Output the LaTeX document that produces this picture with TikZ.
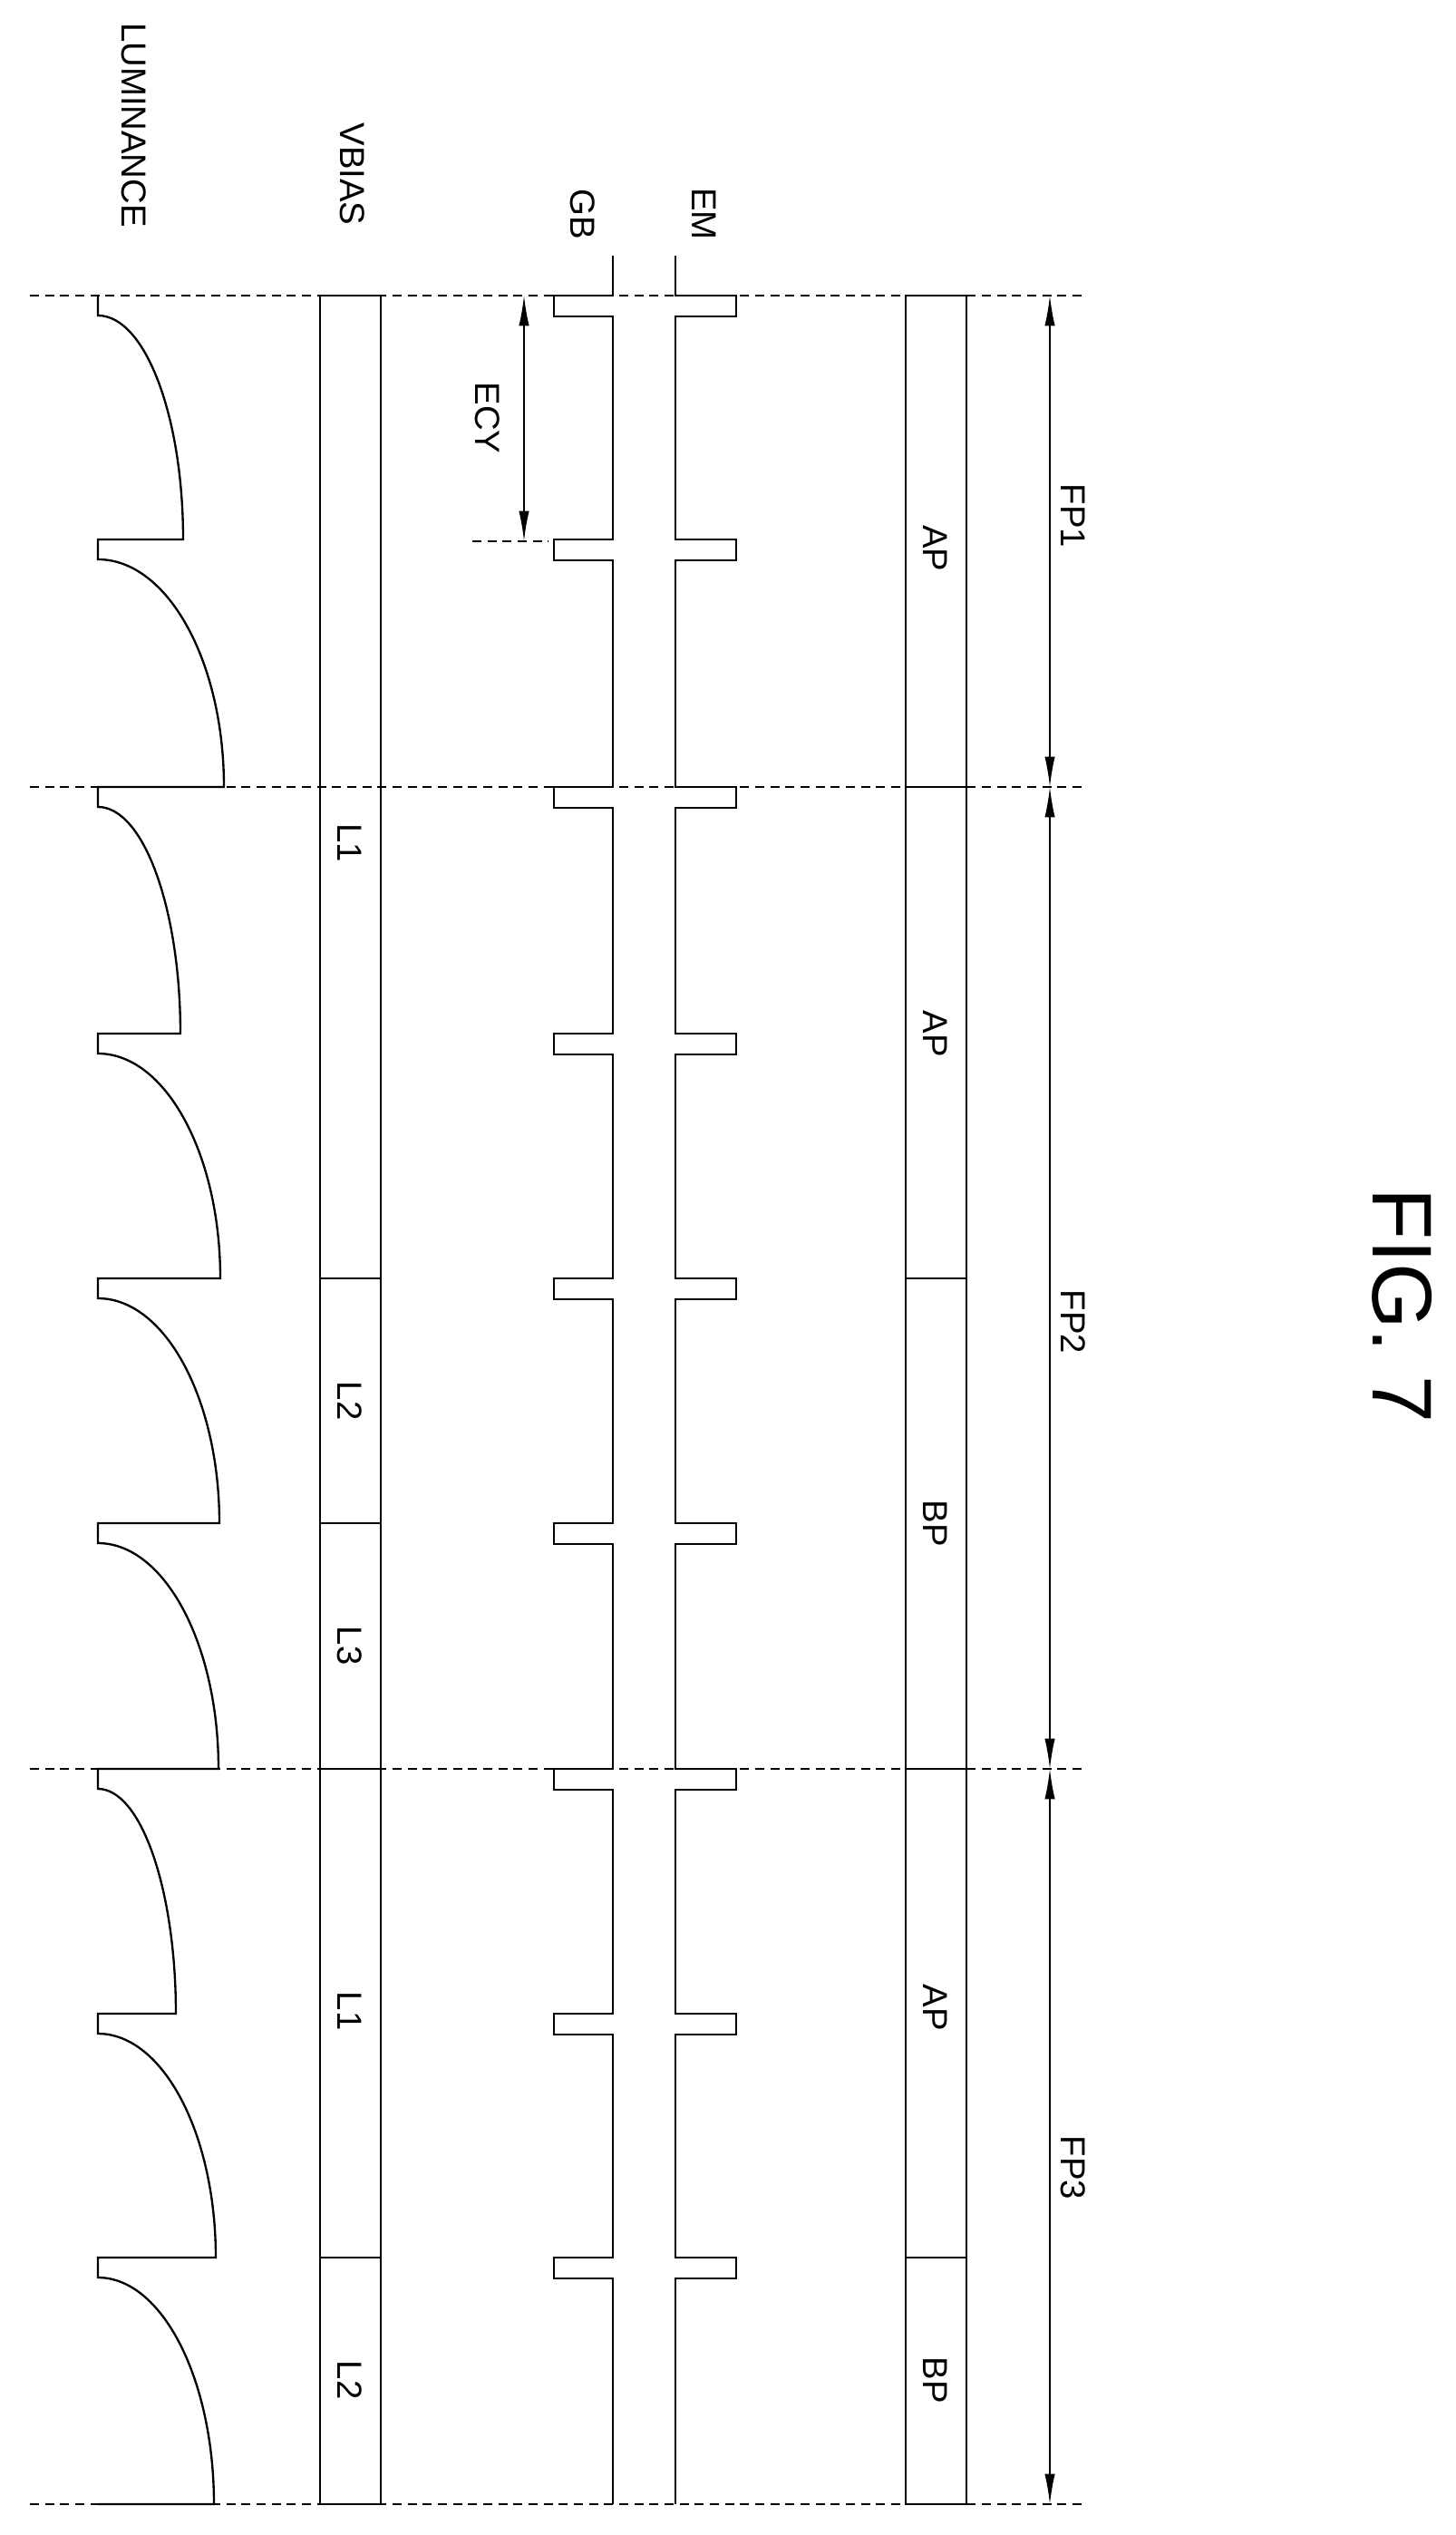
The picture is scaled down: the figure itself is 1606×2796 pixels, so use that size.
\documentclass[tikz,border=0pt]{standalone}
\usepackage{fontspec}
\setmainfont{Liberation Sans}
\usetikzlibrary{arrows.meta}
\begin{document}
\begin{tikzpicture}[x=0.3pt,y=-0.3pt,line width=0.7pt,
  dashline/.style={dashed,dash pattern=on 3pt off 2pt,line width=0.6pt},
  lbl/.style={rotate=-90,font=\fontsize{11.5}{12}\selectfont,inner sep=0pt},
  dimarrow/.style={{Latex[length=10pt,width=3.4pt]}-{Latex[length=10pt,width=3.4pt]},line width=0.5pt}]
\useasboundingbox (0,0) rectangle (1606,2796);
% frame boundaries
\foreach \y in {326,868,1951,2762} \draw[dashline] (33,\y) -- (1194,\y);
% labels
\node[lbl] (lum) at (148,138) {LUMINANCE};
\node[lbl] (vb) at (389,192) {VBIAS};
\node[lbl] (gb) at (643,236) {GB};
\node[lbl] (em) at (777,236) {EM};
% luminance
\draw (108,326) \foreach \a/\b/\p in {326/595/202,595/868/247,868/1140/199,1140/1410/243,1410/1680/242,1680/1951/241,1951/2221/194,2221/2490/238,2490/2762/236}{
  -- (108,{\a+22}) .. controls ({108+0.552*(\p-108)},{\a+22}) and (\p,{\b-0.552*(\b-\a-22)}) .. (\p,\b) -- (108,\b)};
% VBIAS bar
\draw (353,326) rectangle (420,2762);
\foreach \y in {1410,1680,1951,2490} \draw (353,\y) -- (420,\y);
\node[lbl] (l1a) at (386,930) {L1};
\node[lbl] (l2a) at (386,1545) {L2};
\node[lbl] (l3a) at (386,1815) {L3};
\node[lbl] (l1b) at (386,2218) {L1};
\node[lbl] (l2b) at (386,2625) {L2};
% GB and EM
\draw (676,282) \foreach \a in {326,595,868,1140,1410,1680,1951,2221,2490}{
  -- (676,\a) -- (611,\a) -- (611,{\a+23}) -- (676,{\a+23})} -- (676,2762);
\draw (745,282) \foreach \a in {326,595,868,1140,1410,1680,1951,2221,2490}{
  -- (745,\a) -- (812,\a) -- (812,{\a+23}) -- (745,{\a+23})} -- (745,2762);
% ECY
\coordinate (ecyT) at (578,326);
\coordinate (ecyB) at (578,597);
\draw[dimarrow] (ecyT) -- (ecyB);
\draw[dashline] (521,597) -- (605,597);
\node[lbl] (ecy) at (538,461) {ECY};
% AP/BP bar
\draw (999,326) rectangle (1066,2762);
\foreach \y in {868,1410,1951,2490} \draw (999,\y) -- (1066,\y);
\node[lbl] (ap1) at (1032,605) {AP};
\node[lbl] (ap2) at (1032,1140) {AP};
\node[lbl] (bp1) at (1032,1680) {BP};
\node[lbl] (ap3) at (1032,2214) {AP};
\node[lbl] (bp2) at (1032,2625) {BP};
% FP arrows
\coordinate (f0) at (1158,326);
\coordinate (f1) at (1158,868);
\coordinate (f2) at (1158,1951);
\coordinate (f3) at (1158,2762);
\draw[dimarrow] (f0) -- (f1);
\draw[dimarrow] (f1) -- (f2);
\draw[dimarrow] (f2) -- (f3);
\node[lbl] (fp1) at (1184,569) {FP1};
\node[lbl] (fp2) at (1184,1458) {FP2};
\node[lbl] (fp3) at (1184,2391) {FP3};
% title
\node[rotate=-90,font=\fontsize{28}{30}\selectfont,inner sep=0pt] (fig) at (1547,1440) {FIG. 7};
\end{tikzpicture}
\end{document}
